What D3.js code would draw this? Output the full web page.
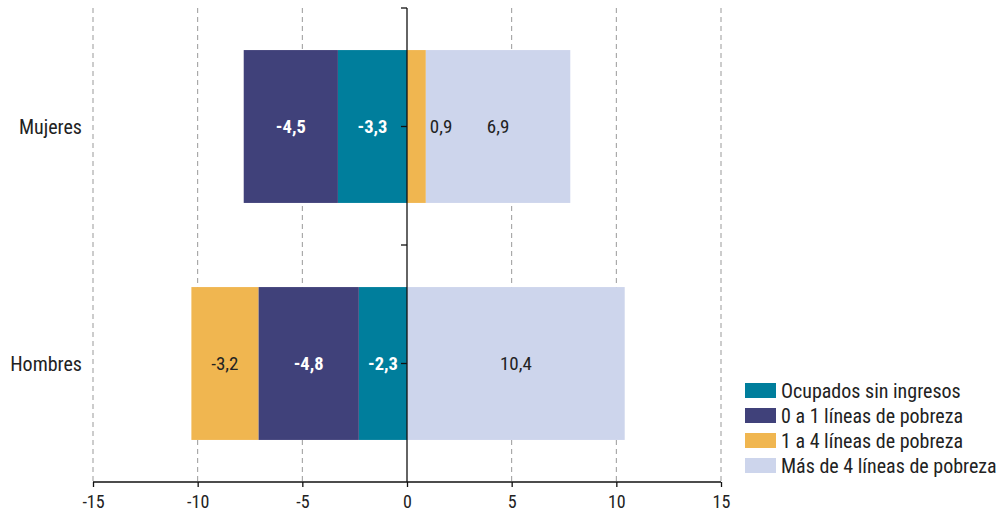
<!DOCTYPE html>
<html><head><meta charset="utf-8">
<script src="https://cdn.jsdelivr.net/npm/d3@7"></script>
<style>
body{margin:0;background:#fff;}
svg text{font-family:"Roboto Condensed","Roboto",sans-serif;}
</style></head>
<body><svg id="c" width="1003" height="514"></svg>
<script>
const categories = ["Mujeres", "Hombres"];
const seriesNames = ["Ocupados sin ingresos", "0 a 1 líneas de pobreza", "1 a 4 líneas de pobreza", "Más de 4 líneas de pobreza"];
const seriesColors = ["#007e9c", "#40417a", "#f0b650", "#cdd5ec"];
const labelColors = ["#ffffff", "#ffffff", "#222222", "#222222"];
const labelWeights = ["bold", "bold", "normal", "normal"];
const ocupadosSinIngresos = [-3.3, -2.3];
const ceroAUnaLinea = [-4.5, -4.8];
const unaACuatroLineas = [0.9, -3.2];
const masDeCuatroLineas = [6.9, 10.4];
const xTicks = [-15, -10, -5, 0, 5, 10, 15];

const fmt = v => d3.format(".1f")(v).replace(".", ",").replace("\u2212", "-");
const series = [ocupadosSinIngresos, ceroAUnaLinea, unaACuatroLineas, masDeCuatroLineas];
const svg = d3.select("#c");
const x = d3.scaleLinear().domain([-15, 15]).range([93, 721]);
const y = d3.scaleBand().domain(categories).range([8, 482]).paddingInner(0.355).paddingOuter(0.1775);
const yb = d3.scaleBand().domain(categories).range([8, 482]);

// grid
svg.append("g").selectAll("line").data(xTicks.filter(d => d !== 0)).join("line")
  .attr("x1", d => x(d)).attr("x2", d => x(d)).attr("y1", 8).attr("y2", 482)
  .attr("stroke", "#999").attr("stroke-dasharray", "5,4").attr("stroke-width", 1);

// stacked bars (diverging)
const segs = [];
categories.forEach((c, ci) => {
  let pos = 0, neg = 0;
  series.forEach((s, si) => {
    const v = s[ci];
    let x0, x1;
    if (v >= 0) { x0 = pos; x1 = pos + v; pos = x1; }
    else { x0 = neg + v; x1 = neg; neg = x0; }
    segs.push({c, si, v, x0, x1});
  });
});
svg.append("g").selectAll("rect").data(segs).join("rect")
  .attr("x", d => x(d.x0)).attr("width", d => x(d.x1) - x(d.x0))
  .attr("y", d => y(d.c)).attr("height", y.bandwidth())
  .attr("fill", d => seriesColors[d.si]);

// x axis
const xAxis = svg.append("g").attr("transform", "translate(0,482)")
  .call(d3.axisBottom(x).tickValues(xTicks).tickSize(5).tickFormat(d => String(d)));
xAxis.select(".domain").attr("stroke", "#111").attr("stroke-width", 1.3).attr("d", "M93,0H721");
xAxis.selectAll(".tick line").attr("stroke", "#111").attr("stroke-width", 1.3);
xAxis.selectAll("text").attr("font-size", 18).attr("fill", "#222").attr("y", 26).attr("dy", 0);

// y axis at zero
const yAxis = svg.append("g").attr("transform", `translate(${x(0)},0)`);
yAxis.append("line").attr("x1", 0).attr("x2", 0).attr("y1", 8).attr("y2", 482).attr("stroke", "#111").attr("stroke-width", 1.3);
const yTickPos = [8, ...categories.map(c => yb(c) + yb.bandwidth() / 2), yb(categories[1])];
yAxis.selectAll("line.t").data(yTickPos).join("line").attr("class", "t")
  .attr("x1", -6).attr("x2", 0).attr("y1", d => d).attr("y2", d => d)
  .attr("stroke", "#111").attr("stroke-width", 1.3);

// value labels
svg.append("g").selectAll("text").data(segs).join("text")
  .attr("x", d => {
    const w = x(d.x1) - x(d.x0);
    return w < 30 ? x(d.x1) + 4 : (x(d.x0) + x(d.x1)) / 2;
  })
  .attr("text-anchor", d => (x(d.x1) - x(d.x0)) < 30 ? "start" : "middle")
  .attr("y", d => y(d.c) + y.bandwidth() / 2)
  .attr("dy", "0.35em")
  .attr("font-size", d => labelWeights[d.si] === "bold" ? 18.5 : 19)
  .attr("font-weight", d => labelWeights[d.si])
  .attr("fill", d => labelColors[d.si])
  .text(d => fmt(d.v));

// category labels
svg.append("g").selectAll("text").data(categories).join("text")
  .attr("x", 82).attr("y", d => y(d) + y.bandwidth() / 2).attr("dy", "0.35em")
  .attr("text-anchor", "end").attr("font-size", 20).attr("fill", "#222").text(d => d);

// legend
const lg = svg.append("g").attr("transform", "translate(745,383)");
const li = lg.selectAll("g").data(seriesNames).join("g").attr("transform", (d, i) => `translate(0,${i * 25})`);
li.append("rect").attr("width", 31).attr("height", 15).attr("fill", (d, i) => seriesColors[i]);
li.append("text").attr("x", 36).attr("y", 8).attr("dy", "0.36em").attr("font-size", 20).attr("fill", "#222").text(d => d);
</script></body></html>
